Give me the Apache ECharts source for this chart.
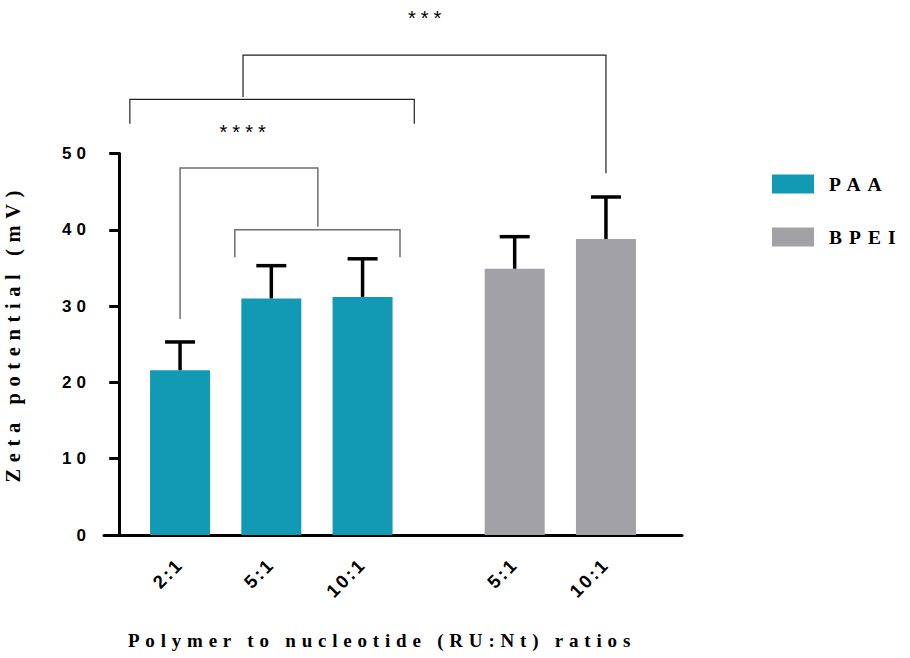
<!DOCTYPE html>
<html><head><meta charset="utf-8">
<script src="https://cdn.jsdelivr.net/npm/echarts@6/dist/echarts.min.js"></script>
<style>
html,body{margin:0;padding:0;background:#fff;}
#chart{width:910px;height:658px;}
#chart text[style*="Liberation Sans"][style*="17px"]{letter-spacing:5px;}
#chart text[style*="Liberation Sans"][style*="18.5px"]{letter-spacing:2.5px;}
#chart text[style*="Liberation Sans"][style*="20px"]{letter-spacing:5px;}
#chart text[style*="Liberation Serif"][style*="20.5px"]{letter-spacing:6.6px;}
#chart text[style*="Liberation Serif"][style*="19px"]{letter-spacing:5.8px;}
#chart text[style*="Liberation Serif"][style*="19.5px"]{letter-spacing:7px;}
</style></head><body><div id="chart"></div>
<script>
// ---- data ----
const paaCategories = ['2:1', '5:1', '10:1'];
const paaMeans = [21.6, 31.0, 31.2];
const paaSD = [3.7, 4.3, 5.0];
const bpeiCategories = ['5:1', '10:1'];
const bpeiMeans = [34.9, 38.8];
const bpeiSD = [4.2, 5.5];
const yTicks = [0, 10, 20, 30, 40, 50];
// significance comparisons: [xStart, xEnd, level, leftEnd, rightEnd, tone] (x in slot units, y in mV)
const brackets = [
  [2.0, 6.53, 48.1, 28.3, 40.4, 0],
  [3.8, 9.23, 40.0, 36.4, 36.4, 0],
  [0.35, 9.7, 57.1, 53.9, 53.9, 1],
  [4.07, 16.0, 62.9, 57.4, 47.4, 1]
];
const starTexts = ['****', '***'];
const starX = [4.14, 10.12];
const starY = [52.8, 67.7];

// ---- layout of category slots ----
const slotCount = 19;
const paaSlots = [2, 5, 8];
const bpeiSlots = [13, 16];
const slotLabels = new Array(slotCount).fill('');
paaSlots.forEach((s, i) => { slotLabels[s] = paaCategories[i]; });
bpeiSlots.forEach((s, i) => { slotLabels[s] = bpeiCategories[i]; });
const paaData = new Array(slotCount).fill('-');
paaSlots.forEach((s, i) => { paaData[s] = paaMeans[i]; });
const bpeiData = new Array(slotCount).fill('-');
bpeiSlots.forEach((s, i) => { bpeiData[s] = bpeiMeans[i]; });
const errData = paaSlots.map((s, i) => [s, paaMeans[i], paaSD[i]])
  .concat(bpeiSlots.map((s, i) => [s, bpeiMeans[i], bpeiSD[i]]));

const TEAL = '#129ab4';
const GRAY = '#a2a1a6';
const SANS = 'Liberation Sans';
const SERIF = 'Liberation Serif';

const chart = echarts.init(document.getElementById('chart'), null, {renderer: 'svg'});
chart.setOption({
  animation: false,
  backgroundColor: '#fff',
  grid: {left: 104, right: 228, top: 153.5, bottom: 123, outerBoundsMode: 'none', containLabel: false},
  legend: {
    orient: 'vertical', left: 767, top: 169, itemWidth: 42, itemHeight: 19, itemGap: 33,
    icon: 'rect', data: ['PAA', 'BPEI'],
    formatter: '{t|{name}}',
    textStyle: {rich: {t: {padding: [0, 0, 0, 10], fontFamily: SERIF, fontSize: 19.5, fontWeight: 'bold', color: '#000'}}}
  },
  xAxis: [{
    type: 'category', data: slotLabels, boundaryGap: true,
    name: 'Polymer to nucleotide (RU:Nt) ratios', nameLocation: 'middle', nameGap: 96,
    nameTextStyle: {fontFamily: SERIF, fontSize: 19, fontWeight: 'bold', color: '#000', padding: [0, 22, 0, 0]},
    axisLine: {lineStyle: {color: '#000', width: 3}},
    axisTick: {alignWithLabel: true, length: 10, lineStyle: {color: '#000', width: 3},
      interval: (idx, val) => val !== ''},
    axisLabel: {interval: 0, rotate: 45, margin: 26, fontFamily: SANS, fontSize: 18.5, fontWeight: 'bold', color: '#000'},
    splitLine: {show: false}
  }, {
    type: 'value', min: -0.5, max: slotCount - 0.5, show: false
  }],
  yAxis: {
    type: 'value', min: yTicks[0], max: yTicks[yTicks.length - 1], interval: 10,
    name: 'Zeta potential (mV)', nameLocation: 'middle', nameGap: 81,
    nameTextStyle: {fontFamily: SERIF, fontSize: 20.5, fontWeight: 'bold', color: '#000', padding: [0, 0, 0, 22]},
    axisLine: {show: true, lineStyle: {color: '#000', width: 3}},
    axisTick: {show: true, length: 10, lineStyle: {color: '#000', width: 3}},
    axisLabel: {margin: 13, fontFamily: SANS, fontSize: 17, fontWeight: 'bold', color: '#000'},
    splitLine: {show: false}
  },
  series: [
    {name: 'PAA', type: 'bar', data: paaData, barWidth: 60, barGap: '-100%', itemStyle: {color: TEAL}, z: 2},
    {name: 'BPEI', type: 'bar', data: bpeiData, barWidth: 60, barGap: '-100%', itemStyle: {color: GRAY}, z: 2},
    {
      type: 'custom', name: 'err', data: errData, z: 5, silent: true,
      renderItem: (params, api) => {
        const x = api.value(0), m = api.value(1), sd = api.value(2);
        const b = api.coord([x, m]);
        const t = api.coord([x, m + sd]);
        const st = {stroke: '#000', lineWidth: 3.5};
        return {type: 'group', children: [
          {type: 'line', shape: {x1: b[0], y1: b[1], x2: t[0], y2: t[1]}, style: st},
          {type: 'line', shape: {x1: t[0] - 15, y1: t[1], x2: t[0] + 15, y2: t[1]}, style: st}
        ]};
      }
    },
    {
      type: 'custom', name: 'brackets', xAxisIndex: 1, data: brackets, clip: false, z: 4, silent: true,
      encode: {x: 0, y: 2},
      renderItem: (params, api) => {
        const x1 = api.value(0), x2 = api.value(1), lv = api.value(2), le = api.value(3), re = api.value(4), tone = api.value(5);
        const pts = [api.coord([x1, le]), api.coord([x1, lv]), api.coord([x2, lv]), api.coord([x2, re])];
        return {type: 'polyline', shape: {points: pts},
          style: {stroke: tone ? '#222' : '#6f6f6f', lineWidth: tone ? 1.2 : 1.5, fill: null}};
      }
    },
    {
      type: 'custom', name: 'stars', xAxisIndex: 1, data: starX.map((x, i) => [x, starY[i]]), clip: false, z: 4, silent: true,
      renderItem: (params, api) => {
        const p = api.coord([api.value(0), api.value(1)]);
        return {type: 'text', x: p[0], y: p[1],
          style: {text: starTexts[params.dataIndex], fontSize: 20, fontFamily: SANS, fill: '#000', align: 'center', verticalAlign: 'middle'}};
      }
    }
  ]
});
</script></body></html>
